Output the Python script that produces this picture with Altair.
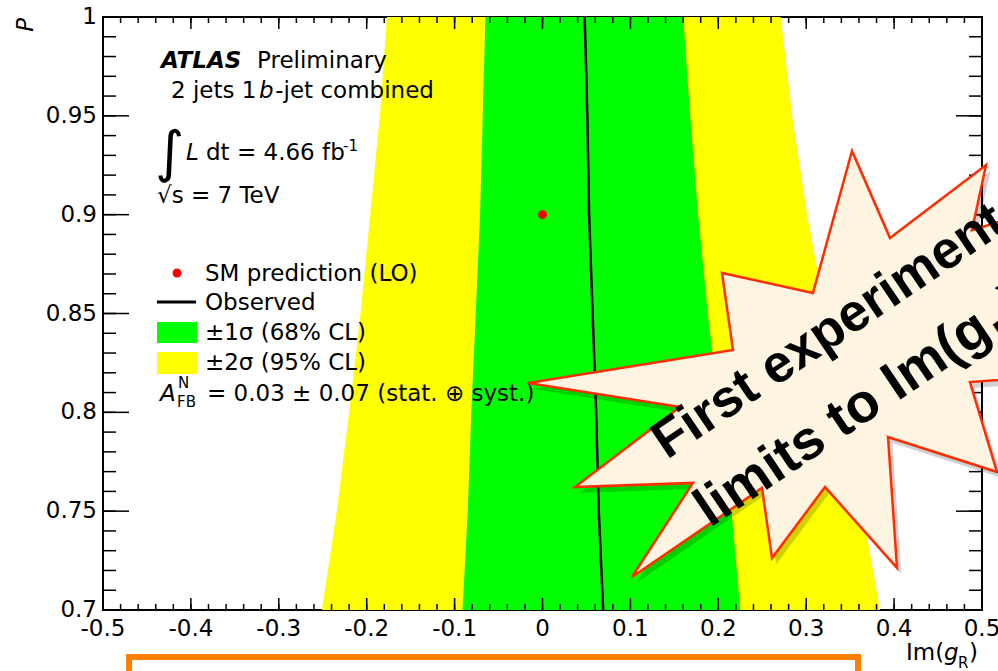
import altair as alt
import pandas as pd

# ---------------- data ----------------
P_LEVELS  = [1.00, 0.95, 0.90, 0.85, 0.80, 0.75, 0.70]
YELLOW_LO = [-0.177, -0.185, -0.196, -0.207, -0.220, -0.234, -0.251]
GREEN_LO  = [-0.065, -0.068, -0.071, -0.076, -0.081, -0.085, -0.091]
OBSERVED  = [0.048, 0.051, 0.053, 0.057, 0.061, 0.064, 0.069]
GREEN_HI  = [0.160, 0.168, 0.177, 0.188, 0.201, 0.215, 0.225]
YELLOW_HI = [0.271, 0.284, 0.301, 0.322, 0.343, 0.364, 0.384]
SM_IM = [0.0]
SM_P = [0.90]

# axis ticks / labels
Y_MAJOR = [0.70, 0.75, 0.80, 0.85, 0.90, 0.95, 1.00]
Y_LABELS = ["0.7", "0.75", "0.8", "0.85", "0.9", "0.95", "1"]
Y_MINOR = [round(0.70 + 0.01 * i, 2) for i in range(31)]
X_MAJOR = [-0.5, -0.4, -0.3, -0.2, -0.1, 0.0, 0.1, 0.2, 0.3, 0.4, 0.5]
X_LABELS = ["-0.5", "-0.4", "-0.3", "-0.2", "-0.1", "0", "0.1", "0.2", "0.3", "0.4", "0.5"]
X_MINOR = [round(-0.5 + 0.02 * i, 2) for i in range(51)]

# starburst call-out outline (in Im(g_R), P units)
STAR_X = [-0.0165, 0.2167, 0.2042, 0.3077, 0.3521, 0.3953, 0.5046, 0.4886,
          0.6115, 0.5546, 0.6115, 0.4863, 0.5171, 0.3931, 0.4033, 0.3214,
          0.2611, 0.2497, 0.1018, 0.1712, 0.0370, 0.1564, -0.0165]
STAR_P = [0.8148, 0.8315, 0.8705, 0.8604, 0.9322, 0.8882, 0.9251, 0.8922,
          0.9089, 0.8568, 0.8194, 0.8153, 0.7698, 0.7875, 0.7213, 0.7622,
          0.7263, 0.7617, 0.7167, 0.7643, 0.7622, 0.8027, 0.8148]

W, H = 879, 593
FONT = "DejaVu Sans"
xs = alt.Scale(domain=[-0.5, 0.5], nice=False, zero=False)
ys = alt.Scale(domain=[0.7, 1.0], nice=False, zero=False)


def X(f):
    return alt.X(f, scale=xs, axis=None)


def Y(f):
    return alt.Y(f, scale=ys, axis=None)


bands = pd.DataFrame({"P": P_LEVELS, "ylo": YELLOW_LO, "yhi": YELLOW_HI,
                      "glo": GREEN_LO, "ghi": GREEN_HI, "obs": OBSERVED})

layers = []
layers.append(alt.Chart(bands).mark_area(orient="horizontal", color="#ffff00", opacity=1).encode(
    y=Y("P:Q"), x=X("ylo:Q"), x2="yhi:Q"))
layers.append(alt.Chart(bands).mark_area(orient="horizontal", color="#00ff00", opacity=1).encode(
    y=Y("P:Q"), x=X("glo:Q"), x2="ghi:Q"))
layers.append(alt.Chart(bands).mark_line(color="black", strokeWidth=2.5).encode(
    x=X("obs:Q"), y=Y("P:Q"), order="P:Q"))
layers.append(alt.Chart(pd.DataFrame({"x": SM_IM, "y": SM_P})).mark_circle(
    color="#ff0000", size=80, opacity=1).encode(x=X("x:Q"), y=Y("y:Q")))


# inward ticks on all four sides
def yticks(vals, length):
    df = pd.DataFrame({"v": vals})
    a = alt.Chart(df).mark_rule(color="black", strokeWidth=1.5).encode(
        y=Y("v:Q"), x=alt.value(0), x2=alt.value(length))
    b = alt.Chart(df).mark_rule(color="black", strokeWidth=1.5).encode(
        y=Y("v:Q"), x=alt.value(W), x2=alt.value(W - length))
    return [a, b]


def xticks(vals, length):
    df = pd.DataFrame({"v": vals})
    a = alt.Chart(df).mark_rule(color="black", strokeWidth=1.5).encode(
        x=X("v:Q"), y=alt.value(H), y2=alt.value(H - length))
    b = alt.Chart(df).mark_rule(color="black", strokeWidth=1.5).encode(
        x=X("v:Q"), y=alt.value(0), y2=alt.value(length))
    return [a, b]


layers += yticks(Y_MINOR, 13) + yticks(Y_MAJOR, 26) + xticks(X_MINOR, 6) + xticks(X_MAJOR, 12)

# tick labels
layers.append(alt.Chart(pd.DataFrame({"v": X_MAJOR, "t": X_LABELS})).mark_text(
    font=FONT, fontSize=23, align="center", baseline="alphabetic", color="black").encode(
    x=X("v:Q"), y=alt.value(H + 26), text="t:N"))
layers.append(alt.Chart(pd.DataFrame({"v": Y_MAJOR, "t": Y_LABELS})).mark_text(
    font=FONT, fontSize=23, align="right", baseline="middle", color="black").encode(
    y=Y("v:Q"), x=alt.value(-6), text="t:N"))


def txt(s, x, y, size=23, style="normal", weight="normal", font=FONT,
        align="left", angle=0, color="black"):
    df = pd.DataFrame({"x": [x], "y": [y], "t": [s]})
    return alt.Chart(df).mark_text(
        fontSize=size, fontStyle=style, fontWeight=weight, font=font,
        align=align, baseline="alphabetic", angle=angle, color=color).encode(
        x=X("x:Q"), y=Y("y:Q"), text="t:N")


# header texts
layers += [
    txt("ATLAS", -0.4340, 0.9742, style="italic", weight="bold"),
    txt("Preliminary", -0.3248, 0.9742),
    txt("2 jets 1", -0.4226, 0.9590),
    txt("b", -0.3225, 0.9590, style="italic"),
    txt("-jet combined", -0.3040, 0.9590),
    txt("\u222b", -0.4408, 0.9221, size=56),
    txt("L", -0.4056, 0.9277, style="italic"),
    txt("dt = 4.66 fb", -0.3828, 0.9277),
    txt("-1", -0.2270, 0.9322, size=15),
    txt("\u221as = 7 TeV", -0.4386, 0.9059),
]

# legend
layers.append(alt.Chart(pd.DataFrame({"x": [-0.4158], "y": [0.8705]})).mark_circle(
    color="#ff0000", size=80, opacity=1).encode(x=X("x:Q"), y=Y("y:Q")))
layers.append(alt.Chart(pd.DataFrame({"x": [-0.4386], "x2": [-0.3942], "y": [0.8558]})).mark_rule(
    color="black", strokeWidth=3).encode(x=X("x:Q"), x2="x2:Q", y=Y("y:Q")))
layers.append(alt.Chart(pd.DataFrame({"x": [-0.4386], "x2": [-0.3931], "y": [0.8457], "y2": [0.8351]})).mark_rect(
    color="#00ff00").encode(x=X("x:Q"), x2="x2:Q", y=Y("y:Q"), y2="y2:Q"))
layers.append(alt.Chart(pd.DataFrame({"x": [-0.4386], "x2": [-0.3931], "y": [0.8305], "y2": [0.8194]})).mark_rect(
    color="#ffff00").encode(x=X("x:Q"), x2="x2:Q", y=Y("y:Q"), y2="y2:Q"))
layers += [
    txt("SM prediction (LO)", -0.3840, 0.8664),
    txt("Observed", -0.3840, 0.8518),
    txt("\u00b11\u03c3 (68% CL)", -0.3840, 0.8366),
    txt("\u00b12\u03c3 (95% CL)", -0.3840, 0.8214),
    txt("A", -0.4352, 0.8057, style="italic"),
    txt("N", -0.4147, 0.8123, size=15),
    txt("FB", -0.4158, 0.8027, size=15),
    txt("= 0.03 \u00b1 0.07 (stat. \u2295 syst.)", -0.3817, 0.8057),
]

# axis titles
layers += [
    txt("P", -0.5796, 0.9995, style="italic", align="right", angle=270),
    txt("Im(", 0.4135, 0.6747),
    txt("g", 0.4568, 0.6747, style="italic"),
    txt("R", 0.4727, 0.6707, size=15),
    txt(")", 0.4852, 0.6747),
]

# starburst call-out
star = pd.DataFrame({"x": STAR_X, "y": STAR_P, "i": list(range(len(STAR_X)))})
shadow = star.assign(x=star["x"] + 0.005, y=star["y"] - 0.003)
layers.append(alt.Chart(shadow).mark_line(fill="#000000", fillOpacity=0.18, strokeOpacity=0).encode(
    x=X("x:Q"), y=Y("y:Q"), order="i:Q"))
layers.append(alt.Chart(star).mark_line(fill="#fdf5e2", stroke="#ff2d00", strokeWidth=2.5,
                                        strokeJoin="miter").encode(
    x=X("x:Q"), y=Y("y:Q"), order="i:Q"))
SF = "Liberation Sans"
layers += [
    txt("First experimental", 0.1416, 0.7759, size=53, weight="bold", font=SF, angle=326),
    txt("limits to Im(g", 0.1906, 0.7415, size=55, weight="bold", font=SF, angle=326),
    txt("R", 0.5245, 0.8343, size=33, weight="bold", font=SF, angle=326),
    txt(")", 0.5395, 0.8461, size=55, weight="bold", font=SF, angle=326),
]

# orange slide frame at the bottom
layers.append(alt.Chart(pd.DataFrame({"x": [-0.4704], "x2": [0.3589], "y": [0.6762], "y2": [0.55]})).mark_rect(
    filled=False, color="#ff8000", strokeWidth=6).encode(x=X("x:Q"), x2="x2:Q", y=Y("y:Q"), y2="y2:Q"))

chart = alt.layer(*layers).properties(
    width=W, height=H,
    autosize=alt.AutoSizeParams(type="none"),
    padding={"left": 103, "top": 17, "right": 16, "bottom": 61},
    background="white",
).configure_view(stroke="black", strokeWidth=2)

chart.save("out.html", embed_options={"renderer": "svg", "actions": False})
